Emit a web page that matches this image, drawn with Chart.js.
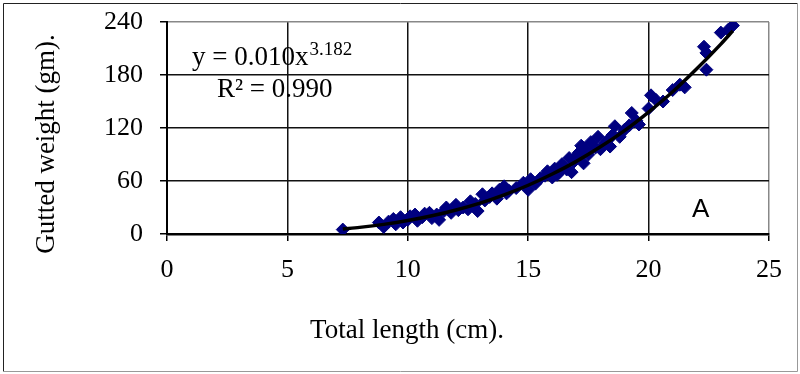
<!DOCTYPE html>
<html>
<head>
<meta charset="utf-8">
<script src="https://cdn.jsdelivr.net/npm/chart.js@4/dist/chart.umd.min.js"></script>
<style>
  body { margin: 0; background: #fff; }
  canvas { display: block; }
</style>
</head>
<body>
<canvas id="lwChart" width="800" height="374"></canvas>
<script>
// total length (cm) vs gutted weight (gm)
var lengths = [7.3, 8.8, 9.0, 9.2, 9.4, 9.5, 9.7, 9.8, 10.0, 10.1, 10.3, 10.4, 10.6, 10.7, 10.9, 11.0,
    11.2, 11.3, 11.5, 11.6, 11.8, 12.0, 12.1, 12.3, 12.5, 12.6, 12.8, 12.9, 13.1, 13.2, 13.4, 13.5,
    13.7, 13.8, 14.0, 14.1, 14.2, 14.5, 14.8, 15.0, 15.1, 15.3, 15.5, 15.7, 15.8, 16.0, 16.1, 16.2,
    16.3, 16.4, 16.5, 16.6, 16.7, 16.8, 16.9, 17.0, 17.1, 17.2, 17.3, 17.4, 17.5, 17.6, 17.8, 17.9,
    18.0, 18.2, 18.3, 18.4, 18.5, 18.6, 18.8, 19.0, 19.2, 19.3, 19.5, 19.6, 20.0, 20.1, 20.3, 20.6,
    21.0, 21.3, 21.5, 22.3, 22.4, 22.4, 23.0, 23.3, 23.5];
var weights = [5, 13, 8, 14, 17, 11, 19, 13, 16, 20, 22, 15, 19, 23, 24, 18,
    22, 16, 26, 30, 24, 33, 27, 30, 28, 37, 34, 26, 45, 38, 42, 46,
    40, 50, 54, 46, 49, 52, 58, 50, 62, 57, 63, 66, 71, 64, 74, 67,
    70, 79, 76, 73, 86, 70, 82, 88, 92, 100, 80, 95, 90, 104, 98, 110,
    96, 103, 106, 99, 112, 122, 110, 118, 123, 137, 128, 124, 142, 157, 152, 150,
    163, 169, 166, 212, 205, 186, 228, 231, 236];

// power trend line
var trendX = [7.3, 8, 9, 10, 11, 12, 13, 14, 15, 16, 17, 18, 19, 20, 21, 22, 23, 23.5];
var trendY = [5.6, 7.5, 10.9, 15.2, 20.6, 27.2, 35, 44.4, 55.2, 67.9, 82.2, 98.7, 117, 138, 161, 187, 215, 230];

var xTicks = [0, 5, 10, 15, 20, 25];
var yTicks = [0, 60, 120, 180, 240];

var serif = '"Liberation Serif", "Times New Roman", serif';

var points = lengths.map(function(v, i) { return { x: v, y: weights[i] }; });
var trend = trendX.map(function(v, i) { return { x: v, y: trendY[i] }; });

// frame, axis titles, equation and panel letter
var decorations = {
    id: 'decorations',
    afterDraw: function(chart) {
        var ctx = chart.ctx;
        ctx.save();
        ctx.lineWidth = 1;
        ctx.strokeStyle = '#222';
        ctx.beginPath();
        ctx.moveTo(3.5, 371.5); ctx.lineTo(3.5, 3.5); ctx.lineTo(797.5, 3.5);
        ctx.stroke();
        ctx.strokeStyle = '#999';
        ctx.beginPath();
        ctx.moveTo(797.5, 3.5); ctx.lineTo(797.5, 371.5); ctx.lineTo(3.5, 371.5);
        ctx.stroke();

        ctx.fillStyle = '#000';
        ctx.font = '27px ' + serif;
        ctx.textAlign = 'center';
        ctx.textBaseline = 'alphabetic';
        ctx.fillText('Total length (cm).', 407, 338);

        ctx.save();
        ctx.translate(54, 144);
        ctx.rotate(-Math.PI / 2);
        ctx.fillText('Gutted weight (gm).', 0, 0);
        ctx.restore();

        ctx.textAlign = 'left';
        ctx.font = '27px ' + serif;
        ctx.fillText('y = 0.010x', 192, 65);
        var w = ctx.measureText('y = 0.010x').width;
        ctx.font = '19px ' + serif;
        ctx.fillText('3.182', 192 + w + 1, 55);
        ctx.font = '27px ' + serif;
        ctx.fillText('R\u00b2 = 0.990', 217, 97);

        ctx.font = '26px "Liberation Sans", Arial, sans-serif';
        ctx.fillText('A', 692, 217);
        ctx.restore();
    }
};

var ctx = document.getElementById('lwChart').getContext('2d');
var lwChart = new Chart(ctx, {
    type: 'scatter',
    data: {
        datasets: [{
            type: 'line',
            label: 'Power trend',
            data: trend,
            order: 0,
            borderColor: '#000',
            borderWidth: 3.5,
            pointRadius: 0,
            fill: false,
            cubicInterpolationMode: 'monotone'
        }, {
            label: 'Gutted weight',
            data: points,
            order: 1,
            pointStyle: 'rectRot',
            pointRadius: 6.5,
            borderWidth: 1,
            backgroundColor: '#000080',
            borderColor: '#000080'
        }]
    },
    options: {
        responsive: false,
        animation: false,
        layout: { padding: { top: 22, right: 31, left: 0, bottom: 0 } },
        plugins: {
            legend: { display: false },
            tooltip: { enabled: false }
        },
        scales: {
            x: {
                type: 'linear',
                min: 0,
                max: 25,
                afterBuildTicks: function(scale) {
                    scale.ticks = xTicks.map(function(v) { return { value: v }; });
                },
                afterFit: function(scale) {
                    scale.height = 140;
                    scale.paddingLeft = 0;
                    scale.paddingRight = 0;
                },
                ticks: { color: '#000', font: { family: serif, size: 26 }, padding: 14, maxRotation: 0 },
                grid: {
                    color: function(c) { return c.tick && c.tick.value === 25 ? '#888' : '#111'; },
                    lineWidth: 1.5,
                    tickLength: 7,
                    tickColor: '#000',
                    tickWidth: 1.5
                },
                border: { color: '#000', width: 2.5 }
            },
            y: {
                min: 0,
                max: 240,
                afterBuildTicks: function(scale) {
                    scale.ticks = yTicks.map(function(v) { return { value: v }; });
                },
                afterFit: function(scale) {
                    scale.width = 167;
                    scale.paddingTop = 0;
                    scale.paddingBottom = 0;
                },
                ticks: { color: '#000', font: { family: serif, size: 26 }, padding: 17 },
                grid: {
                    color: function(c) { return c.tick && c.tick.value === 240 ? '#888' : '#111'; },
                    lineWidth: 1.5,
                    tickLength: 7,
                    tickColor: '#000',
                    tickWidth: 1.5
                },
                border: { color: '#000', width: 2 }
            }
        }
    },
    plugins: [decorations]
});
</script>
</body>
</html>
